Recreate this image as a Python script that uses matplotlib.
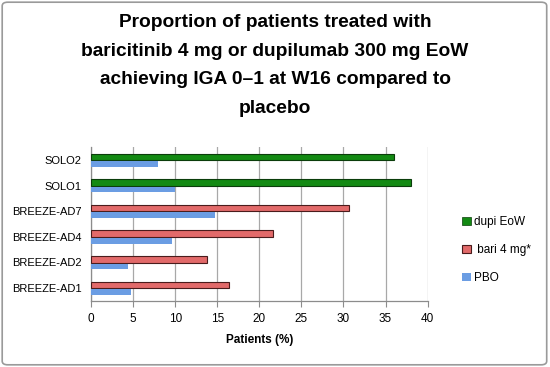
import numpy as np
import matplotlib
matplotlib.use('Agg')
import matplotlib.pyplot as plt
from matplotlib.patches import Patch, FancyBboxPatch

plt.rcParams['font.family'] = ['Liberation Sans', 'DejaVu Sans']

# data, bottom to top
studies = ['BREEZE-AD1', 'BREEZE-AD2', 'BREEZE-AD4', 'BREEZE-AD7', 'SOLO1', 'SOLO2']
dupi = [0, 0, 0, 0, 38, 36]
bari = [16.4, 13.8, 21.6, 30.6, 0, 0]
pbo = [4.7, 4.4, 9.6, 14.7, 10, 8]
xticks = [0, 5, 10, 15, 20, 25, 30, 35, 40]

title = ('Proportion of patients treated with\n'
         'baricitinib 4 mg or dupilumab 300 mg EoW\n'
         'achieving IGA 0\u20131 at W16 compared to\n'
         'placebo')

green = '#138a13'
green_edge = '#0b3d0b'
red = '#e26a6a'
red_edge = '#4a1c1c'
blue = '#6b9de3'

fig = plt.figure(figsize=(5.5, 3.67), dpi=100)
ax = fig.add_axes([0.1655, 0.180, 0.612, 0.419])

y = np.arange(len(studies))
h = 0.26
treat_y = y + 0.12
pbo_y = y - 0.15

for i in range(len(studies)):
    if dupi[i] > 0:
        ax.barh(treat_y[i], dupi[i], height=h, color=green, edgecolor=green_edge, lw=0.8, zorder=3)
    if bari[i] > 0:
        ax.barh(treat_y[i], bari[i], height=h, color=red, edgecolor=red_edge, lw=0.8, zorder=3)
ax.barh(pbo_y, pbo, height=0.22, color=blue, edgecolor='none', zorder=3)

ax.set_xlim(0, 40)
ax.set_ylim(-0.5, len(studies) - 0.5)
ax.set_xticks(xticks)
ax.set_yticks(y)
ax.set_yticklabels(studies)
ax.tick_params(axis='y', length=0, labelsize=8, pad=7)
ax.tick_params(axis='x', direction='out', length=4, color='#8c8c8c', labelsize=8.5, pad=5)
ax.xaxis.grid(True, color='#a8a8a8', lw=0.9, zorder=0)
for s in ['top', 'right']:
    ax.spines[s].set_visible(False)
for s in ['left', 'bottom']:
    ax.spines[s].set_color('#8c8c8c')
    ax.spines[s].set_linewidth(0.9)

ax.set_xlabel('Patients (%)', fontsize=8.5, fontweight='bold', labelpad=6)

fig.text(0.5, 0.962, title, ha='center', va='top', fontsize=13.8, fontweight='bold',
         linespacing=1.9)

handles = [Patch(facecolor=green, edgecolor=green_edge, lw=0.5),
           Patch(facecolor=red, edgecolor=red_edge, lw=0.8),
           Patch(facecolor=blue, edgecolor='none')]
labels = ['dupi EoW', ' bari 4 mg*', 'PBO']
fig.legend(handles, labels, loc='center left', bbox_to_anchor=(0.83, 0.318),
           frameon=False, fontsize=8.5, handlelength=0.7, handleheight=0.7,
           handletextpad=0.3, labelspacing=1.35, borderpad=0)

# outer border of the chart
border = FancyBboxPatch((0.004, 0.006), 0.990, 0.988, boxstyle='round,pad=0,rounding_size=0.01',
                        transform=fig.transFigure, fill=False, edgecolor='#9a9a9a', lw=1.2)
fig.patches.append(border)

fig.savefig('out.png', dpi=100)
